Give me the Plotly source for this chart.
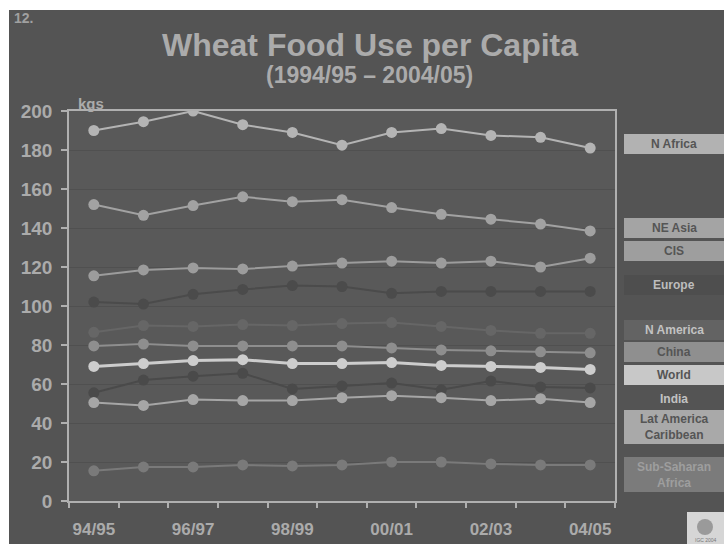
import plotly.graph_objects as go

# Marketing years on the x axis
seasons = ["94/95", "95/96", "96/97", "97/98", "98/99", "99/00",
           "00/01", "01/02", "02/03", "03/04", "04/05"]

# Wheat food use per capita, kg per person per year
n_africa = [190, 194.5, 200, 193, 189, 182.5, 189, 191, 187.5, 186.5, 181]
ne_asia = [152, 146.5, 151.5, 156, 153.5, 154.5, 150.5, 147, 144.5, 142, 138.5]
cis = [115.5, 118.5, 119.5, 119, 120.5, 122, 123, 122, 123, 120, 124.5]
europe = [102, 101, 106, 108.5, 110.5, 110, 106.5, 107.5, 107.5, 107.5, 107.5]
n_america = [86.5, 90, 89.5, 90.5, 90, 91, 91.5, 89.5, 87.5, 86, 86]
china = [79.5, 80.5, 79.5, 79.5, 79.5, 79.5, 78.5, 77.5, 77, 76.5, 76]
world = [69, 70.5, 72, 72.5, 70.5, 70.5, 71, 69.5, 69, 68.5, 67.5]
india = [55.5, 62, 64, 65.5, 57.5, 59, 60.5, 57, 61.5, 58.5, 58]
lat_america = [50.5, 49, 52, 51.5, 51.5, 53, 54, 53, 51.5, 52.5, 50.5]
ss_africa = [15.5, 17.5, 17.5, 18.5, 18, 18.5, 20, 20, 19, 18.5, 18.5]

regions = ["N Africa", "NE Asia", "CIS", "Europe", "N America", "China",
           "World", "India", "Lat America<br>Caribbean", "Sub-Saharan<br>Africa"]
series = [n_africa, ne_asia, cis, europe, n_america, china,
          world, india, lat_america, ss_africa]

line_colors = ["#b4b4b4", "#a2a2a2", "#9c9c9c", "#4b4b4b", "#666666",
               "#8e8e8e", "#cdcdcd", "#4a4a4a", "#a6a6a6", "#7a7a7a"]
box_colors = ["#b2b2b2", "#a4a4a4", "#9e9e9e", "#4e4e4e", "#636363",
              "#8f8f8f", "#c8c8c8", None, "#a9a9a9", "#7b7b7b"]
text_colors = ["#555555", "#555555", "#555555", "#bdbdbd", "#c2c2c2",
               "#555555", "#555555", "#c2c2c2", "#555555", "#9e9e9e"]
# legend box extents (top, bottom) in pixels
box_rows = [(134, 154), (218, 238), (241, 261), (275, 295), (320, 340),
            (342, 362), (365, 385), (389, 409), (410, 444), (457, 492)]

W, H = 724, 544
L, R, T, B = 69, 109, 111, 43
PW, PH = W - L - R, H - T - B


def px(x):
    return (x - L) / PW


def py(y):
    return (H - B - y) / PH


BG = "#545454"
TXT = "#ababab"
FONT = "Liberation Sans, Arial, sans-serif"

fig = go.Figure()
for name, vals, col in zip(regions, series, line_colors):
    width = 3 if name == "World" else 2
    fig.add_trace(go.Scatter(
        x=seasons, y=vals, mode="lines+markers", name=name.replace("<br>", " "),
        line=dict(color=col, width=width),
        marker=dict(color=col, size=11, line=dict(width=0)),
        showlegend=False,
    ))

shapes = []
annotations = []

# region key on the right
for name, fill, tcol, (y0, y1) in zip(regions, box_colors, text_colors, box_rows):
    if fill:
        shapes.append(dict(type="rect", xref="paper", yref="paper",
                           x0=px(624), x1=px(726), y0=py(y1), y1=py(y0),
                           fillcolor=fill, line=dict(width=0), layer="above"))
    annotations.append(dict(xref="paper", yref="paper", x=px(674), y=py((y0 + y1) / 2),
                            text=name, showarrow=False, xanchor="center", yanchor="middle",
                            font=dict(family=FONT, size=12, color=tcol, weight="bold"),
                            align="center"))

# titles and labels
annotations += [
    dict(xref="paper", yref="paper", x=px(370), y=py(45), text="Wheat Food Use per Capita",
         showarrow=False, xanchor="center", yanchor="middle",
         font=dict(family=FONT, size=32, color=TXT, weight="bold")),
    dict(xref="paper", yref="paper", x=px(369), y=py(75), text="(1994/95 – 2004/05)",
         showarrow=False, xanchor="center", yanchor="middle",
         font=dict(family=FONT, size=23, color=TXT, weight="bold")),
    dict(xref="paper", yref="paper", x=px(76), y=py(103), text="kgs",
         showarrow=False, xanchor="left", yanchor="middle",
         font=dict(family=FONT, size=15, color=TXT, weight="bold")),
    dict(xref="paper", yref="paper", x=px(12), y=py(18), text="12.",
         showarrow=False, xanchor="left", yanchor="middle",
         font=dict(family=FONT, size=14, color="#a0a0a0", weight="bold")),
    dict(xref="paper", yref="paper", x=px(706), y=py(540), text="IGC 2004",
         showarrow=False, xanchor="center", yanchor="middle",
         font=dict(family=FONT, size=5, color="#777777")),
]

# white page margin and small logo tile
shapes += [
    dict(type="rect", xref="paper", yref="paper", x0=px(-2), x1=px(W + 2),
         y0=py(10), y1=py(-2), fillcolor="white", line=dict(width=0), layer="above"),
    dict(type="rect", xref="paper", yref="paper", x0=px(-2), x1=px(9),
         y0=py(H + 2), y1=py(-2), fillcolor="white", line=dict(width=0), layer="above"),
    dict(type="rect", xref="paper", yref="paper", x0=px(687), x1=px(726),
         y0=py(546), y1=py(512), fillcolor="#d6d6d6", line=dict(width=0), layer="above"),
    dict(type="circle", xref="paper", yref="paper", x0=px(697), x1=px(713),
         y0=py(535), y1=py(519), fillcolor="#9a9a9a", line=dict(width=0), layer="above"),
]

fig.update_layout(
    width=W, height=H,
    margin=dict(l=L, r=R, t=T, b=B, pad=0, autoexpand=False),
    paper_bgcolor=BG, plot_bgcolor="#595959",
    shapes=shapes, annotations=annotations,
    showlegend=False,
    xaxis=dict(
        type="category", categoryorder="array", categoryarray=seasons,
        range=[-0.5, len(seasons) - 0.5],
        tickvals=seasons,
        ticktext=[s if i % 2 == 0 else "" for i, s in enumerate(seasons)],
        tickson="boundaries", ticks="outside", ticklen=5, tickwidth=1.5,
        tickangle=0, automargin=False,
        tickcolor="#b0b0b0", showline=True, linecolor="#b0b0b0", linewidth=1.5,
        mirror=True, showgrid=False, ticklabelstandoff=12,
        tickfont=dict(family=FONT, size=17, color=TXT, weight="bold"),
    ),
    yaxis=dict(
        range=[0, 200], dtick=20, ticks="outside", ticklen=6, tickwidth=1.5,
        automargin=False,
        tickcolor="#b0b0b0", showline=True, linecolor="#b0b0b0", linewidth=1.5,
        mirror=True, showgrid=True, gridcolor="#505050", gridwidth=1,
        zeroline=False, ticklabelstandoff=5,
        tickfont=dict(family=FONT, size=19, color=TXT, weight="bold"),
    ),
)

fig.write_html("out.html")
